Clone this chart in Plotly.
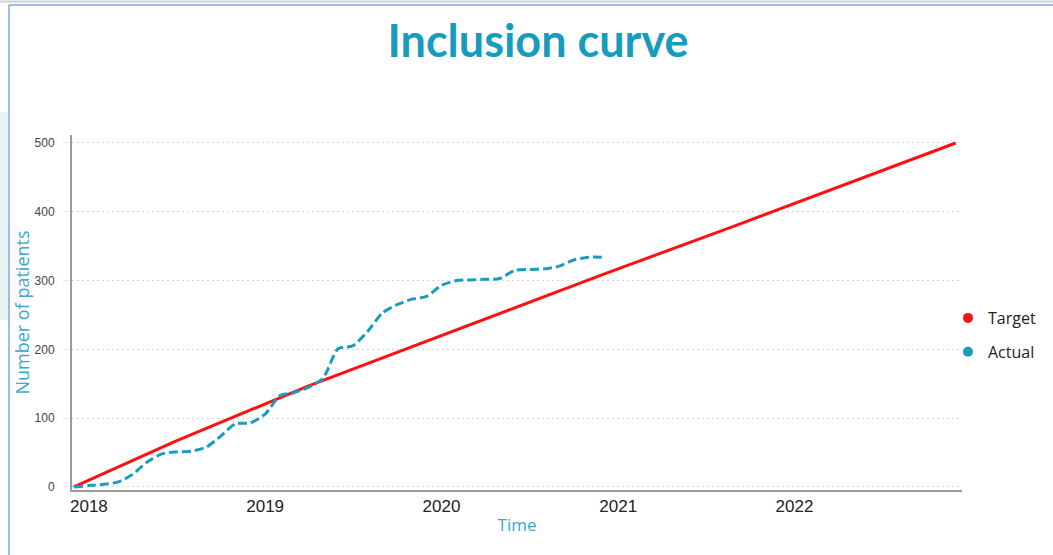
import plotly.graph_objects as go

# ---------------- data ----------------
target_dates = ["2017-12-01", "2018-07-01", "2019-04-01", "2020-02-01",
                "2020-12-01", "2021-09-01", "2022-03-01", "2022-12-01"]
target_values = [0, 67, 147, 228, 309, 380, 428, 500]

actual_dates = ["2017-12-01", "2018-01-01", "2018-02-01", "2018-03-01", "2018-04-01",
                "2018-05-01", "2018-06-01", "2018-07-01", "2018-08-01", "2018-09-01",
                "2018-10-01", "2018-11-01", "2018-12-01", "2019-01-01", "2019-02-01",
                "2019-03-01", "2019-04-01", "2019-05-01", "2019-06-01", "2019-07-01",
                "2019-08-01", "2019-09-01", "2019-10-01", "2019-11-01", "2019-12-01",
                "2020-01-01", "2020-02-01", "2020-03-01", "2020-04-01", "2020-05-01",
                "2020-06-01", "2020-07-01", "2020-08-01", "2020-09-01", "2020-10-01",
                "2020-11-01", "2020-11-28"]
actual_values = [0, 2, 4, 7, 18,
                 36, 48, 51, 52, 58,
                 74, 92, 93, 106, 133,
                 137, 145, 158, 201, 205,
                 226, 253, 265, 273, 277,
                 293, 300, 301, 302, 303,
                 315, 316, 317, 321, 330,
                 334, 334]

series_names = ["Target", "Actual"]
series_colors = ["#ff1010", "#1a9bc0"]

y_ticks = [0, 100, 200, 300, 400, 500]
x_ticks = ["2018-01-01", "2019-01-01", "2020-01-01", "2021-01-01", "2022-01-01"]
x_tick_labels = ["2018", "2019", "2020", "2021", "2022"]

title_text = "Inclusion curve"
x_title = "Time"
y_title = "Number of patients"

# ---------------- layout constants ----------------
W, H = 1053, 555
L, R, T, B = 72, 91, 135, 65
PW, PH = W - L - R, H - T - B


def px_x(px):
    return (px - L) / PW


def px_y(py):
    return (H - B - py) / PH


fig = go.Figure()

fig.add_trace(go.Scatter(
    x=target_dates, y=target_values, mode="lines",
    line=dict(color=series_colors[0], width=3),
    name=series_names[0], showlegend=False, hoverinfo="x+y"))

fig.add_trace(go.Scatter(
    x=actual_dates, y=actual_values, mode="lines",
    line=dict(color=series_colors[1], width=3, dash="9px,4px",
              shape="spline", smoothing=0.7),
    name=series_names[1], showlegend=False, hoverinfo="x+y"))

# legend entries shown as dots
for nm, col in zip(series_names, series_colors):
    fig.add_trace(go.Scatter(
        x=[None], y=[None], mode="markers", name=nm,
        marker=dict(color=col, size=10), legendgroup=nm, showlegend=True))

shapes = [
    # light teal patch at the left edge
    dict(type="rect", xref="paper", yref="paper",
         x0=px_x(0), x1=px_x(8), y0=px_y(320), y1=px_y(112),
         fillcolor="#e6f3f2", line=dict(width=0), layer="below"),
    # frame: top
    dict(type="line", xref="paper", yref="paper",
         x0=px_x(0), x1=px_x(W), y0=px_y(1.5), y1=px_y(1.5),
         line=dict(color="#c8d4e4", width=2)),
    dict(type="line", xref="paper", yref="paper",
         x0=px_x(9), x1=px_x(W), y0=px_y(5), y1=px_y(5),
         line=dict(color="#7ea9dd", width=1.5)),
    # frame: left
    dict(type="line", xref="paper", yref="paper",
         x0=px_x(9), x1=px_x(9), y0=px_y(5), y1=px_y(H),
         line=dict(color="#7ea9dd", width=1.5)),
]

fig.update_layout(
    width=W, height=H, autosize=False,
    margin=dict(l=L, r=R, t=T, b=B, pad=0),
    paper_bgcolor="white", plot_bgcolor="white",
    title=dict(text=title_text, x=px_x(538), xref="paper", xanchor="center",
               y=1 - 41 / H, yref="container", yanchor="middle",
               font=dict(family="Lato", size=45, color="#179bbf", weight=700)),
    showlegend=True,
    legend=dict(xref="paper", x=px_x(948), xanchor="left",
                yref="paper", y=px_y(335), yanchor="middle",
                font=dict(family="Open Sans", size=16, color="#222222"),
                bgcolor="rgba(0,0,0,0)", borderwidth=0, tracegroupgap=10),
    shapes=shapes,
    xaxis=dict(
        type="date", range=["2017-11-27", "2022-12-14"],
        tickvals=x_ticks, ticktext=x_tick_labels,
        showgrid=False, zeroline=False,
        showline=True, linecolor="#9a9a9a", linewidth=2,
        ticks="", tickfont=dict(family="Liberation Sans Narrow, Liberation Sans", size=17, color="#222222"),
        title=dict(text=x_title, standoff=4,
                   font=dict(family="Open Sans", size=17, color="#3aa7cc")),
    ),
    yaxis=dict(
        range=[-4.4, 511.6],
        tickvals=y_ticks,
        showgrid=True, gridcolor="#d6d6d6", gridwidth=1, griddash="2px,3px",
        zeroline=False,
        showline=True, linecolor="#9a9a9a", linewidth=2,
        ticks="outside", ticklen=7, tickcolor="#e6e6e6", tickwidth=1,
        ticklabelstandoff=6,
        tickfont=dict(family="Liberation Sans Narrow, Liberation Sans", size=12, color="#444444"),
        title=dict(text=y_title, standoff=0,
                   font=dict(family="Open Sans", size=18, color="#3aa7cc")),
    ),
)

fig.write_html("out.html")
